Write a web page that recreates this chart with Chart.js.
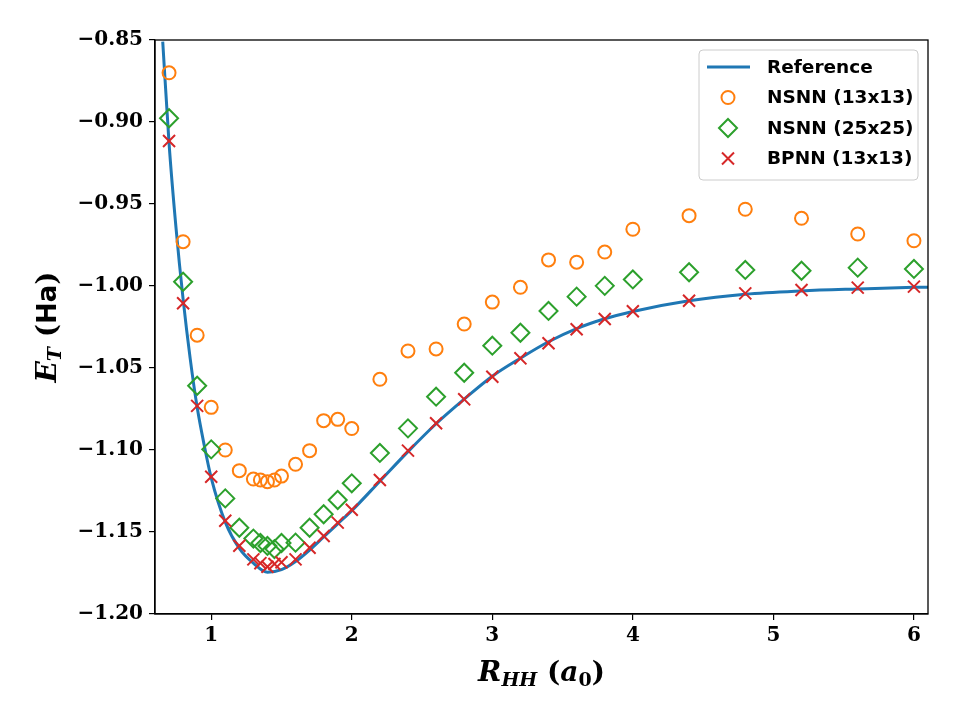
<!DOCTYPE html>
<html>
<head>
<meta charset="UTF-8">
<title>H2 energy curve</title>
<script src="https://cdn.jsdelivr.net/npm/chart.js@4.4.1/dist/chart.umd.min.js"></script>
<style>
  html, body { margin: 0; padding: 0; background: #ffffff; }
  #wrap { width: 960px; height: 720px; }
</style>
</head>
<body>
<div id="wrap"><canvas id="chart" width="960" height="720"></canvas></div>
<script>
// Reference curve
var refR = [0.655, 0.7, 0.75, 0.8, 0.85, 0.9, 0.95, 1.0, 1.1, 1.2, 1.3, 1.4, 1.5, 1.6, 1.7, 1.8, 1.9, 2.0,
            2.2, 2.4, 2.6, 2.8, 3.0, 3.2, 3.4, 3.6, 3.8, 4.0, 4.4, 4.8, 5.2, 5.6, 6.0, 6.1];
var refE = [-0.851, -0.913, -0.965, -1.008, -1.044, -1.074, -1.097, -1.117, -1.144, -1.160, -1.169, -1.1745, -1.173, -1.168, -1.161, -1.153, -1.145, -1.137,
            -1.119, -1.101, -1.084, -1.069, -1.055, -1.044, -1.034, -1.026, -1.020, -1.0155, -1.009, -1.005, -1.003, -1.0018, -1.0008, -1.0007];

// Network predictions, same bond lengths for every model
var nnR = [0.7, 0.8, 0.9, 1.0, 1.1, 1.2, 1.3, 1.35, 1.4, 1.45, 1.5, 1.6, 1.7, 1.8, 1.9, 2.0,
           2.2, 2.4, 2.6, 2.8, 3.0, 3.2, 3.4, 3.6, 3.8, 4.0, 4.4, 4.8, 5.2, 5.6, 6.0];
var nsnn13 = [-0.870, -0.973, -1.030, -1.074, -1.100, -1.1126, -1.1177, -1.1183, -1.1193, -1.1183, -1.1159, -1.1087, -1.1004, -1.0821, -1.0813, -1.0869,
              -1.0569, -1.0396, -1.0384, -1.0232, -1.0098, -1.0008, -0.9841, -0.9855, -0.9793, -0.9654, -0.9571, -0.9532, -0.9587, -0.9683, -0.9724];
var nsnn25 = [-0.8977, -0.9974, -1.0608, -1.0996, -1.1295, -1.1474, -1.1540, -1.1567, -1.1585, -1.1604, -1.1567, -1.1565, -1.1474, -1.1392, -1.1305, -1.1203,
              -1.1018, -1.0868, -1.0675, -1.0529, -1.0364, -1.0285, -1.0152, -1.0065, -0.9999, -0.9960, -0.9916, -0.9902, -0.9907, -0.9888, -0.9896];
var bpnn13 = [-0.9116, -1.0105, -1.0731, -1.1163, -1.1431, -1.1584, -1.1667, -1.1690, -1.1712, -1.1695, -1.1685, -1.1667, -1.1596, -1.1524, -1.1443, -1.1364,
              -1.1183, -1.1004, -1.0837, -1.0691, -1.0553, -1.0441, -1.0349, -1.0264, -1.0201, -1.0154, -1.0090, -1.0045, -1.0024, -1.0010, -1.0004];

var xTicks = [1, 2, 3, 4, 5, 6];
var yTicks = [-1.20, -1.15, -1.10, -1.05, -1.00, -0.95, -0.90, -0.85];
var seriesNames = ['Reference', 'NSNN (13x13)', 'NSNN (25x25)', 'BPNN (13x13)'];

var BLUE = '#1f77b4', ORANGE = '#ff7f0e', GREEN = '#2ca02c', RED = '#d62728';
var TICK_FONT = '"DejaVu Serif", "Liberation Serif", serif';

function pts(xs, ys) {
    return xs.map(function(x, i) { return { x: x, y: ys[i] }; });
}

// frame, axis titles and legend box, drawn after the chart
var decorations = {
    id: 'decorations',
    afterDraw: function(chart) {
        var ctx = chart.ctx, a = chart.chartArea;
        ctx.save();

        // full axes box
        ctx.strokeStyle = '#000';
        ctx.lineWidth = 1.3;
        ctx.strokeRect(a.left, a.top, a.right - a.left, a.bottom - a.top);

        // x title: R_HH (a_0)
        var parts = [
            { t: 'R', f: 'italic bold 28px ' + TICK_FONT, dy: 0 },
            { t: 'HH', f: 'italic bold 19px ' + TICK_FONT, dy: 5 },
            { t: ' (', f: 'bold 28px ' + TICK_FONT, dy: 0 },
            { t: 'a', f: 'italic bold 28px ' + TICK_FONT, dy: 0 },
            { t: '0', f: 'bold 19px ' + TICK_FONT, dy: 5 },
            { t: ')', f: 'bold 28px ' + TICK_FONT, dy: 0 }
        ];
        drawRich(ctx, parts, (a.left + a.right) / 2, 681);

        // y title: E_T (Ha), rotated
        ctx.save();
        ctx.translate(56, (a.top + a.bottom) / 2);
        ctx.rotate(-Math.PI / 2);
        var yparts = [
            { t: 'E', f: 'italic bold 28px ' + TICK_FONT, dy: 0 },
            { t: 'T', f: 'italic bold 19px ' + TICK_FONT, dy: 5 },
            { t: ' (', f: 'bold 28px ' + TICK_FONT, dy: 0 },
            { t: 'Ha', f: 'bold 26px "DejaVu Sans", sans-serif', dy: 0 },
            { t: ')', f: 'bold 28px ' + TICK_FONT, dy: 0 }
        ];
        drawRich(ctx, yparts, 0, 0);
        ctx.restore();

        // legend
        var bx = 699, by = 50, bw = 219, bh = 130;
        ctx.beginPath();
        roundRect(ctx, bx, by, bw, bh, 4);
        ctx.fillStyle = 'rgba(255,255,255,0.85)';
        ctx.fill();
        ctx.strokeStyle = '#cccccc';
        ctx.lineWidth = 1;
        ctx.stroke();

        var rows = [67, 97.5, 128, 158.5];
        var mx = 728;
        // line sample
        ctx.strokeStyle = BLUE;
        ctx.lineWidth = 3;
        ctx.beginPath(); ctx.moveTo(707, rows[0]); ctx.lineTo(750, rows[0]); ctx.stroke();
        ctx.lineWidth = 2;
        // circle
        ctx.strokeStyle = ORANGE;
        ctx.beginPath(); ctx.arc(mx, rows[1], 6.5, 0, Math.PI * 2); ctx.stroke();
        // diamond
        ctx.strokeStyle = GREEN;
        ctx.beginPath();
        ctx.moveTo(mx, rows[2] - 9); ctx.lineTo(mx + 9, rows[2]);
        ctx.lineTo(mx, rows[2] + 9); ctx.lineTo(mx - 9, rows[2]);
        ctx.closePath(); ctx.stroke();
        // x marker
        ctx.strokeStyle = RED;
        var d = 6;
        ctx.beginPath();
        ctx.moveTo(mx - d, rows[3] - d); ctx.lineTo(mx + d, rows[3] + d);
        ctx.moveTo(mx - d, rows[3] + d); ctx.lineTo(mx + d, rows[3] - d);
        ctx.stroke();

        ctx.fillStyle = '#000';
        ctx.font = 'bold 18.5px "DejaVu Sans", sans-serif';
        ctx.textAlign = 'left';
        ctx.textBaseline = 'middle';
        seriesNames.forEach(function(name, i) {
            ctx.fillText(name, 767, rows[i] + 1);
        });

        ctx.restore();
    }
};

function drawRich(ctx, parts, cx, baseline) {
    var total = 0;
    parts.forEach(function(p) { ctx.font = p.f; p.w = ctx.measureText(p.t).width; total += p.w; });
    var x = cx - total / 2;
    ctx.fillStyle = '#000';
    ctx.textAlign = 'left';
    ctx.textBaseline = 'alphabetic';
    parts.forEach(function(p) {
        ctx.font = p.f;
        ctx.fillText(p.t, x, baseline + p.dy);
        x += p.w;
    });
}

function roundRect(ctx, x, y, w, h, r) {
    ctx.moveTo(x + r, y);
    ctx.lineTo(x + w - r, y);
    ctx.arcTo(x + w, y, x + w, y + r, r);
    ctx.lineTo(x + w, y + h - r);
    ctx.arcTo(x + w, y + h, x + w - r, y + h, r);
    ctx.lineTo(x + r, y + h);
    ctx.arcTo(x, y + h, x, y + h - r, r);
    ctx.lineTo(x, y + r);
    ctx.arcTo(x, y, x + r, y, r);
}

var config = {
    type: 'scatter',
    data: {
        datasets: [
            {
                label: seriesNames[0],
                data: pts(refR, refE),
                showLine: true,
                borderColor: BLUE,
                borderWidth: 3,
                pointRadius: 0,
                cubicInterpolationMode: 'monotone',
                order: 4
            },
            {
                label: seriesNames[1],
                data: pts(nnR, nsnn13),
                pointStyle: 'circle',
                pointRadius: 6.5,
                borderWidth: 2,
                borderColor: ORANGE,
                backgroundColor: 'rgba(0,0,0,0)',
                order: 3
            },
            {
                label: seriesNames[2],
                data: pts(nnR, nsnn25),
                pointStyle: 'rectRot',
                pointRadius: 9,
                borderWidth: 2,
                borderColor: GREEN,
                backgroundColor: 'rgba(0,0,0,0)',
                order: 2
            },
            {
                label: seriesNames[3],
                data: pts(nnR, bpnn13),
                pointStyle: 'crossRot',
                pointRadius: 8.5,
                borderWidth: 2,
                borderColor: RED,
                backgroundColor: RED,
                order: 1
            }
        ]
    },
    options: {
        responsive: false,
        animation: false,
        layout: { padding: { top: 40, right: 32, left: 0, bottom: 0 } },
        plugins: {
            legend: { display: false },
            tooltip: { enabled: false }
        },
        scales: {
            x: {
                type: 'linear',
                min: 0.6,
                max: 6.1,
                afterBuildTicks: function(scale) {
                    scale.ticks = xTicks.map(function(v) { return { value: v }; });
                },
                afterFit: function(scale) { scale.height = 106; },
                grid: { drawOnChartArea: false, drawTicks: true, tickLength: 6, tickColor: '#000', lineWidth: 1.2 },
                border: { display: true, color: '#000', width: 1.3 },
                ticks: {
                    padding: 4,
                    color: '#000',
                    maxRotation: 0,
                    font: { family: TICK_FONT, size: 20, weight: 'bold' },
                    callback: function(v) { return String(v); }
                }
            },
            y: {
                type: 'linear',
                min: -1.2,
                max: -0.85,
                afterBuildTicks: function(scale) {
                    scale.ticks = yTicks.map(function(v) { return { value: v }; });
                },
                afterFit: function(scale) { scale.width = 155; },
                grid: { drawOnChartArea: false, drawTicks: true, tickLength: 6, tickColor: '#000', lineWidth: 1.2 },
                border: { display: true, color: '#000', width: 1.3 },
                ticks: {
                    padding: 6,
                    color: '#000',
                    font: { family: TICK_FONT, size: 20, weight: 'bold' },
                    callback: function(v) { return '\u2212' + Math.abs(v).toFixed(2); }
                }
            }
        }
    },
    plugins: [decorations]
};

new Chart(document.getElementById('chart'), config);
</script>
</body>
</html>
